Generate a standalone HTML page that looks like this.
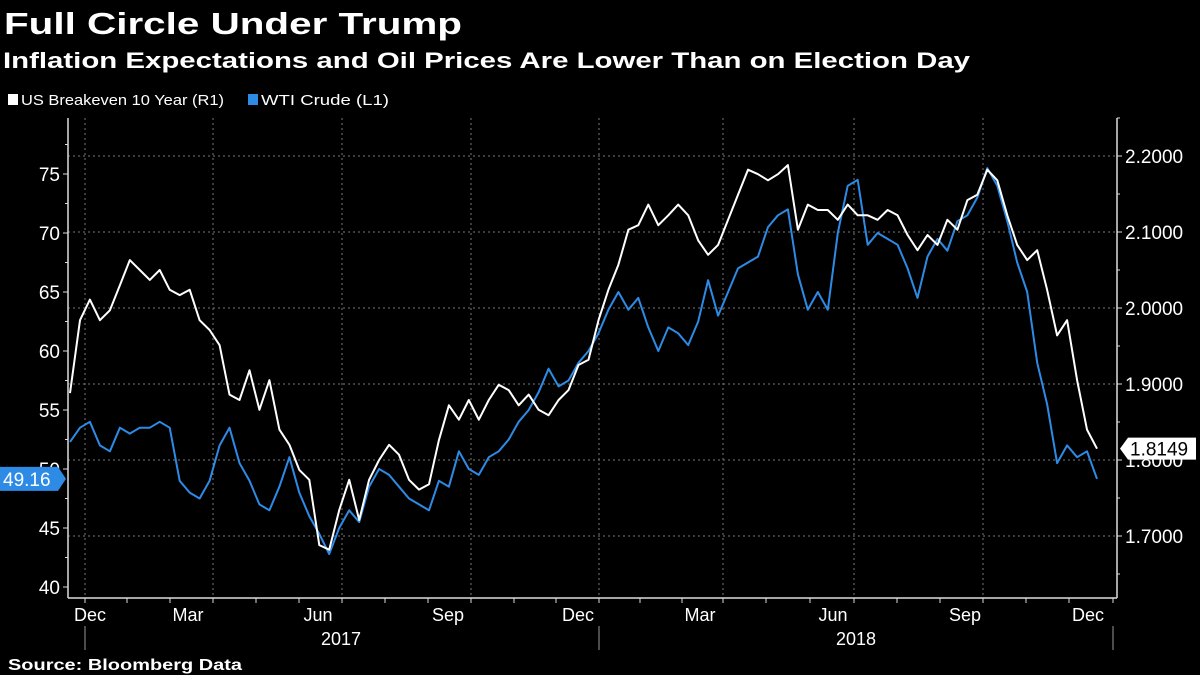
<!DOCTYPE html>
<html><head><meta charset="utf-8"><style>
html,body{margin:0;padding:0;background:#000;}
svg{display:block;font-family:"Liberation Sans",sans-serif;}
</style></head><body>
<svg id="chart" width="1200" height="675" viewBox="0 0 1200 675" xmlns="http://www.w3.org/2000/svg">
<rect width="1200" height="675" fill="#000"/>
<text x="4" y="34" fill="#fff" font-size="31" font-weight="bold" textLength="458" lengthAdjust="spacingAndGlyphs">Full Circle Under Trump</text>
<text x="3" y="68" fill="#fff" font-size="22" font-weight="bold" textLength="967" lengthAdjust="spacingAndGlyphs">Inflation Expectations and Oil Prices Are Lower Than on Election Day</text>
<g>
<rect x="8" y="94" width="10" height="11" fill="#fff"/>
<text x="21" y="105" fill="#fff" font-size="15" textLength="203" lengthAdjust="spacingAndGlyphs">US Breakeven 10 Year  (R1)</text>
<rect x="248" y="94" width="10" height="11" fill="#2d8be6"/>
<text x="261" y="105" fill="#fff" font-size="15" textLength="128" lengthAdjust="spacingAndGlyphs">WTI Crude (L1)</text>
</g>
<g id="grid"></g>
<g id="axes"></g>
<g id="series"></g>
<g id="labels"></g>
<text x="8" y="670" fill="#fff" font-size="16" font-weight="bold" textLength="234" lengthAdjust="spacingAndGlyphs">Source:  Bloomberg Data</text>
</svg>
<script>
const leftTicks = [40,45,50,55,60,65,70,75];
const rightTicks = [1.7,1.8,1.9,2.0,2.1,2.2];
const monthLabels = ["Dec","Mar","Jun","Sep","Dec","Mar","Jun","Sep","Dec"];
const yearLabels = ["2017","2018"];
const wti = [52.3,53.5,54,52,51.5,53.5,53,53.5,53.5,54,
53.5,49,48,47.5,49,52,53.5,50.5,49,47,
46.5,48.5,51,48,46,44.5,42.8,45,46.5,45.5,
48.5,50,49.5,48.5,47.5,47,46.5,49,48.5,51.5,
50,49.5,51,51.5,52.5,54,55,56.5,58.5,57,
57.5,59,60,61.5,63.5,65,63.5,64.5,62,60,
62,61.5,60.5,62.5,66,63,65,67,67.5,68,
70.5,71.5,72,66.5,63.5,65,63.5,70,74,74.5,
69,70,69.5,69,67,64.5,68,69.5,68.5,71,
71.5,73,75.5,74,71,67.5,65,59,55.5,50.5,
52,51,51.5,49.16];
const breakeven = [1.888,1.984,2.011,1.984,1.997,2.030,2.063,2.05,2.037,2.05,
2.024,2.017,2.024,1.984,1.971,1.951,1.886,1.879,1.918,1.866,
1.905,1.84,1.82,1.787,1.774,1.688,1.682,1.734,1.774,1.721,
1.774,1.8,1.82,1.807,1.774,1.761,1.768,1.826,1.872,1.853,
1.879,1.853,1.879,1.899,1.892,1.872,1.886,1.866,1.859,1.879,
1.892,1.925,1.932,1.984,2.024,2.057,2.103,2.109,2.136,2.109,
2.122,2.136,2.122,2.089,2.07,2.083,2.116,2.149,2.182,2.176,
2.168,2.176,2.188,2.103,2.136,2.129,2.129,2.116,2.136,2.122,
2.122,2.116,2.129,2.122,2.096,2.076,2.096,2.083,2.116,2.103,
2.142,2.149,2.182,2.168,2.122,2.083,2.063,2.076,2.024,1.964,
1.984,1.905,1.84,1.8149];

const NS="http://www.w3.org/2000/svg";
const PL=68, PR=1117, PT=118, PB=598, X0=70, X1=1097;
function xS(i,n){return X0+(X1-X0)*i/(n-1);}
function yL(v){return 174+(75-v)*11.8;}
function yR(v){return 156+(2.2-v)*760;}
function mk(tag,attrs,parent){const e=document.createElementNS(NS,tag);for(const k in attrs)e.setAttribute(k,attrs[k]);parent.appendChild(e);return e;}
const grid=document.getElementById('grid'), axes=document.getElementById('axes'), series=document.getElementById('series'), labels=document.getElementById('labels');

// horizontal grid (right axis)
rightTicks.forEach(t=>{
  const l=mk('line',{x1:PL,x2:PR,y1:yR(t),y2:yR(t),stroke:'#777','stroke-width':1,'stroke-dasharray':'2,3'},grid);
  
  
});
// vertical grid at quarter starts
const gridX=[85,213,342,471,599,723,854,983];
gridX.forEach(x=>{
  const l=mk('line',{x1:x,x2:x,y1:PT,y2:PB,stroke:'#777','stroke-width':1,'stroke-dasharray':'2,3'},grid);
  
  
});
// axis lines
mk('line',{x1:PL,x2:PL,y1:PT,y2:PB,stroke:'#ddd','stroke-width':1.5},axes);
mk('line',{x1:PR,x2:PR,y1:PT,y2:PB,stroke:'#ddd','stroke-width':1.5},axes);
mk('line',{x1:PL,x2:PR,y1:PB,y2:PB,stroke:'#ddd','stroke-width':1.5},axes);
// left ticks
for(let v=40; v<=77.5; v+=2.5){
  const major = v%5===0;
  mk('line',{x1:PL-(major?5:3),x2:PL,y1:yL(v),y2:yL(v),stroke:'#ddd','stroke-width':1},axes);
}
leftTicks.forEach(t=>{
  const tx=mk('text',{x:PL-8,y:yL(t)+7,fill:'#fff','font-size':19,'text-anchor':'end'},axes);
  tx.textContent=t;
  
  
});
// right ticks
for(let v=1.65; v<=2.25; v+=0.05){
  const major=Math.abs(v*10-Math.round(v*10))<0.01;
  mk('line',{x1:PR,x2:PR+(major?5:3),y1:yR(v),y2:yR(v),stroke:'#ddd','stroke-width':1},axes);
}
rightTicks.forEach(t=>{
  const tx=mk('text',{x:PR+8,y:yR(t)+7,fill:'#fff','font-size':19},axes);
  tx.textContent=t.toFixed(4);
  
  
});
// bottom month ticks
const monthTickX=[85,127,170,213,256,299,342,385,428,471,514,556,599,640,682,723,766,810,854,897,940,983,1026,1069,1113];
monthTickX.forEach(x=>mk('line',{x1:x,x2:x,y1:PB,y2:PB+5,stroke:'#ddd','stroke-width':1},axes));
const monthLabelX=[90,188,318,448,578,700,833,965,1088];
monthLabels.forEach((m,i)=>{
  const tx=mk('text',{x:monthLabelX[i],y:621,fill:'#fff','font-size':18,'text-anchor':'middle'},axes);
  tx.textContent=m;
  
  
});
[85,599,1113].forEach(x=>mk('line',{x1:x,x2:x,y1:626,y2:650,stroke:'#999','stroke-width':1},axes));
[341,856].forEach((x,i)=>{
  const tx=mk('text',{x:x,y:645,fill:'#fff','font-size':18,'text-anchor':'middle'},axes);
  tx.textContent=yearLabels[i];
  
  
});
// series
function path(arr,yf){return arr.map((v,i)=>(i?'L':'M')+xS(i,arr.length).toFixed(1)+','+yf(v).toFixed(1)).join('');}
const pw=mk('path',{d:path(wti,yL),fill:'none',stroke:'#2d8be6','stroke-width':2,'stroke-linejoin':'round'},series);


const pb=mk('path',{d:path(breakeven,yR),fill:'none',stroke:'#fff','stroke-width':2,'stroke-linejoin':'round'},series);


// last value labels
const lw=wti[wti.length-1], ly=yL(lw);
const bl=mk('path',{d:`M0,${ly-12}H58L66,${ly}L58,${ly+12}H0Z`,fill:'#2d8be6'},labels);


const tw=mk('text',{x:3,y:ly+7,fill:'#fff','font-size':19},labels);
tw.textContent=lw.toFixed(2);


const lb=breakeven[breakeven.length-1], by=yR(lb);
const br=mk('path',{d:`M1120,${by}L1128,${by-11}H1196V${by+11}H1128Z`,fill:'#fff'},labels);


const tb=mk('text',{x:1130,y:by+7,fill:'#000','font-size':19},labels);
tb.textContent=lb.toFixed(4);


</script>
</body></html>
